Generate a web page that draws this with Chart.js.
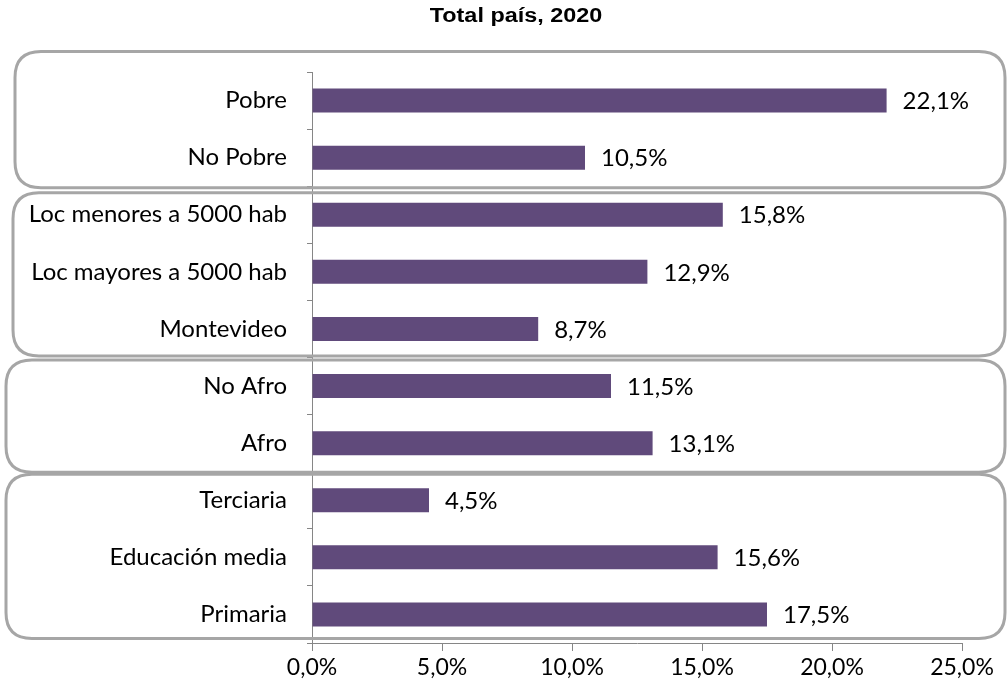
<!DOCTYPE html>
<html>
<head>
<meta charset="utf-8">
<script src="https://cdn.jsdelivr.net/npm/chart.js@4"></script>
<style>
  html, body { margin: 0; padding: 0; background: #ffffff; }
  #wrap { width: 1007px; height: 693px; position: relative; }
</style>
</head>
<body>
<div id="wrap"><canvas id="c" width="1007" height="693"></canvas></div>
<script>
// ---- Data ----
const categories = ["Pobre", "No Pobre", "Loc menores a 5000 hab", "Loc mayores a 5000 hab", "Montevideo", "No Afro", "Afro", "Terciaria", "Educación media", "Primaria"];
const values = [22.1, 10.5, 15.8, 12.9, 8.7, 11.5, 13.1, 4.5, 15.6, 17.5];
const xTicks = [0, 5, 10, 15, 20, 25];
const titleText = "Total país, 2020";
// groups of categories framed by rounded boxes (first index, last index)
const groups = [[0, 1], [2, 4], [5, 6], [7, 9]];

// ---- Styling / decoration ----
const LABEL_FONT = 'Lato';
const boxStyle = [
  { left: 15, padTop: 49, padBottom: 30 },
  { left: 13, padTop: 22, padBottom: 27 },
  { left: 6, padTop: 26, padBottom: 29 },
  { left: 6, padTop: 26, padBottom: 24 }
];
const fmt = v => v.toFixed(1).replace('.', ',') + '%';

function roundRect(ctx, x, y, w, h, r) {
  ctx.beginPath();
  ctx.moveTo(x + r, y);
  ctx.lineTo(x + w - r, y);
  ctx.quadraticCurveTo(x + w, y, x + w, y + r);
  ctx.lineTo(x + w, y + h - r);
  ctx.quadraticCurveTo(x + w, y + h, x + w - r, y + h);
  ctx.lineTo(x + r, y + h);
  ctx.quadraticCurveTo(x, y + h, x, y + h - r);
  ctx.lineTo(x, y + r);
  ctx.quadraticCurveTo(x, y, x + r, y);
  ctx.closePath();
}

const decorPlugin = {
  id: 'decor',
  afterDraw(chart) {
    const ctx = chart.ctx;
    const ys = chart.scales.y;
    // group boxes
    ctx.save();
    ctx.strokeStyle = '#A6A6A6';
    ctx.lineWidth = 3;
    groups.forEach((g, i) => {
      const s = boxStyle[i];
      const top = ys.getPixelForValue(g[0]) - s.padTop;
      const bottom = ys.getPixelForValue(g[1]) + s.padBottom;
      roundRect(ctx, s.left, top, 1005 - s.left, bottom - top, 26);
      ctx.stroke();
    });
    ctx.restore();

    // data labels
    ctx.save();
    ctx.fillStyle = '#000000';
    ctx.font = '24px ' + LABEL_FONT;
    ctx.textAlign = 'left';
    ctx.textBaseline = 'middle';
    const meta = chart.getDatasetMeta(0);
    meta.data.forEach((bar, i) => {
      ctx.fillText(fmt(values[i]), bar.x + 16, bar.y + 1);
    });
    ctx.restore();

    // title
    ctx.save();
    ctx.fillStyle = '#000000';
    ctx.font = 'bold 20px "Liberation Sans"';
    ctx.textAlign = 'center';
    ctx.textBaseline = 'middle';
    ctx.translate(516, 16);
    ctx.scale(1.17, 1);
    ctx.fillText(titleText, 0, 0);
    ctx.restore();
  }
};

new Chart(document.getElementById('c'), {
  type: 'bar',
  data: {
    labels: categories,
    datasets: [{
      data: values,
      backgroundColor: '#604A7B',
      borderWidth: 0,
      barPercentage: 0.42,
      categoryPercentage: 1.0
    }]
  },
  options: {
    indexAxis: 'y',
    responsive: false,
    animation: false,
    devicePixelRatio: 1,
    layout: { padding: { top: 72, left: 0, right: 45, bottom: 0 } },
    plugins: {
      legend: { display: false },
      title: { display: false },
      tooltip: { enabled: false }
    },
    scales: {
      y: {
        type: 'category',
        afterFit(scale) { scale.width = 312; },
        grid: {
          display: true,
          offset: true,
          drawOnChartArea: false,
          drawTicks: true,
          tickLength: 5,
          color: '#868686'
        },
        border: { display: true, color: '#868686', width: 1 },
        ticks: {
          padding: 20,
          autoSkip: false,
          color: '#000000',
          font: { family: LABEL_FONT, size: 24 }
        }
      },
      x: {
        type: 'linear',
        min: 0,
        max: 25,
        afterFit(scale) { scale.height = 50; },
        afterBuildTicks(scale) { scale.ticks = xTicks.map(v => ({ value: v })); },
        grid: {
          display: true,
          drawOnChartArea: false,
          drawTicks: true,
          tickLength: 8,
          color: '#868686'
        },
        border: { display: true, color: '#868686', width: 1 },
        ticks: {
          padding: 3,
          maxRotation: 0,
          color: '#000000',
          font: { family: LABEL_FONT, size: 23 },
          callback: v => fmt(v)
        }
      }
    }
  },
  plugins: [decorPlugin]
});
</script>
</body>
</html>
